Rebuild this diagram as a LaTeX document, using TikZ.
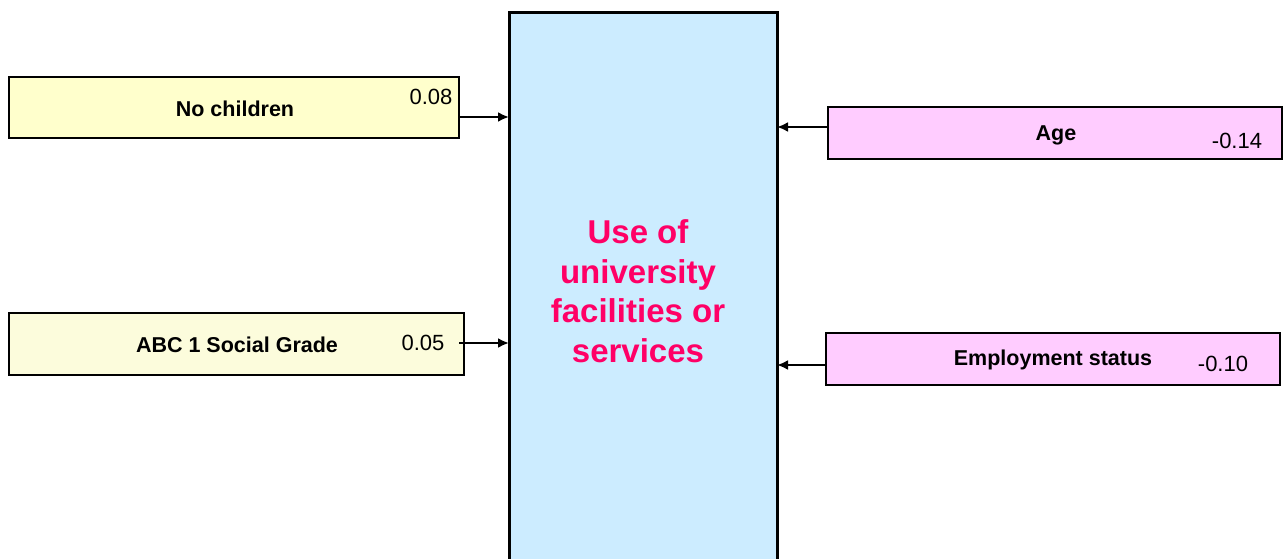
\documentclass[tikz,border=0pt]{standalone}
\usepackage{fontspec}
\setmainfont{Liberation Sans}
\usetikzlibrary{arrows.meta,positioning}
\definecolor{outcomeblue}{HTML}{CCECFF}
\definecolor{posyellow}{HTML}{FFFFCC}
\definecolor{posyellowb}{HTML}{FCFCDC}
\definecolor{negpink}{HTML}{FFCCFF}
\definecolor{titlepink}{HTML}{FF0066}
\tikzset{
  factor/.style={draw=black, line width=2.8pt, inner sep=0pt},
  outcome/.style={draw=black, line width=3pt, fill=outcomeblue, inner sep=0pt},
  lbl/.style={font=\fontsize{21.5}{26}\selectfont\bfseries},
  coef/.style={font=\fontsize{22}{26}\selectfont},
  link/.style={line width=2.4pt, -{Latex[length=11pt,width=10pt]}}
}
\begin{document}
\begin{tikzpicture}[x=1pt,y=-1pt]
\useasboundingbox (0,0) rectangle (1283,559);

% central outcome (runs past the lower edge)
\begin{scope}
\clip (0,0) rectangle (1283,559);
\draw[outcome] (509,13) rectangle (777,600);
\end{scope}
\coordinate (outW1) at (509,117);
\coordinate (outW2) at (509,343);
\coordinate (outE1) at (777,127);
\coordinate (outE2) at (777,365);
\node[align=center, text=titlepink, font=\fontsize{33}{39.5}\selectfont\bfseries]
  (outtxt) at (638,291) {Use of\\university\\facilities or\\services};

% left factors
\node[factor, fill=posyellow, minimum width=450pt, minimum height=61pt] (kids) at (234,107.5) {};
\node[lbl] at (235,109) {No children};
\node[coef] (kidsc) at (431,97) {0.08};

\node[factor, fill=posyellowb, minimum width=455pt, minimum height=62pt] (abc) at (236.5,344) {};
\node[lbl] at (237,345) {ABC 1 Social Grade};
\node[coef] (abcc) at (423,343) {0.05};
\coordinate (abcout) at (459,343);

% right factors
\node[factor, fill=negpink, minimum width=454pt, minimum height=52pt] (age) at (1055,133) {};
\node[lbl] at (1056,135) {Age};
\node[coef] (agec) at (1237,141) {-0.14};

\node[factor, fill=negpink, minimum width=454pt, minimum height=52pt] (emp) at (1053,359) {};
\node[lbl] at (1053,360) {Employment status};
\node[coef] (empc) at (1223,364) {-0.10};

% path coefficients
\draw[link] (kids.east |- outW1) -- (outW1);
\draw[link] (abcout) -- (outW2);
\draw[link] (age.west |- outE1) -- (outE1);
\draw[link] (emp.west |- outE2) -- (outE2);
\end{tikzpicture}
\end{document}
